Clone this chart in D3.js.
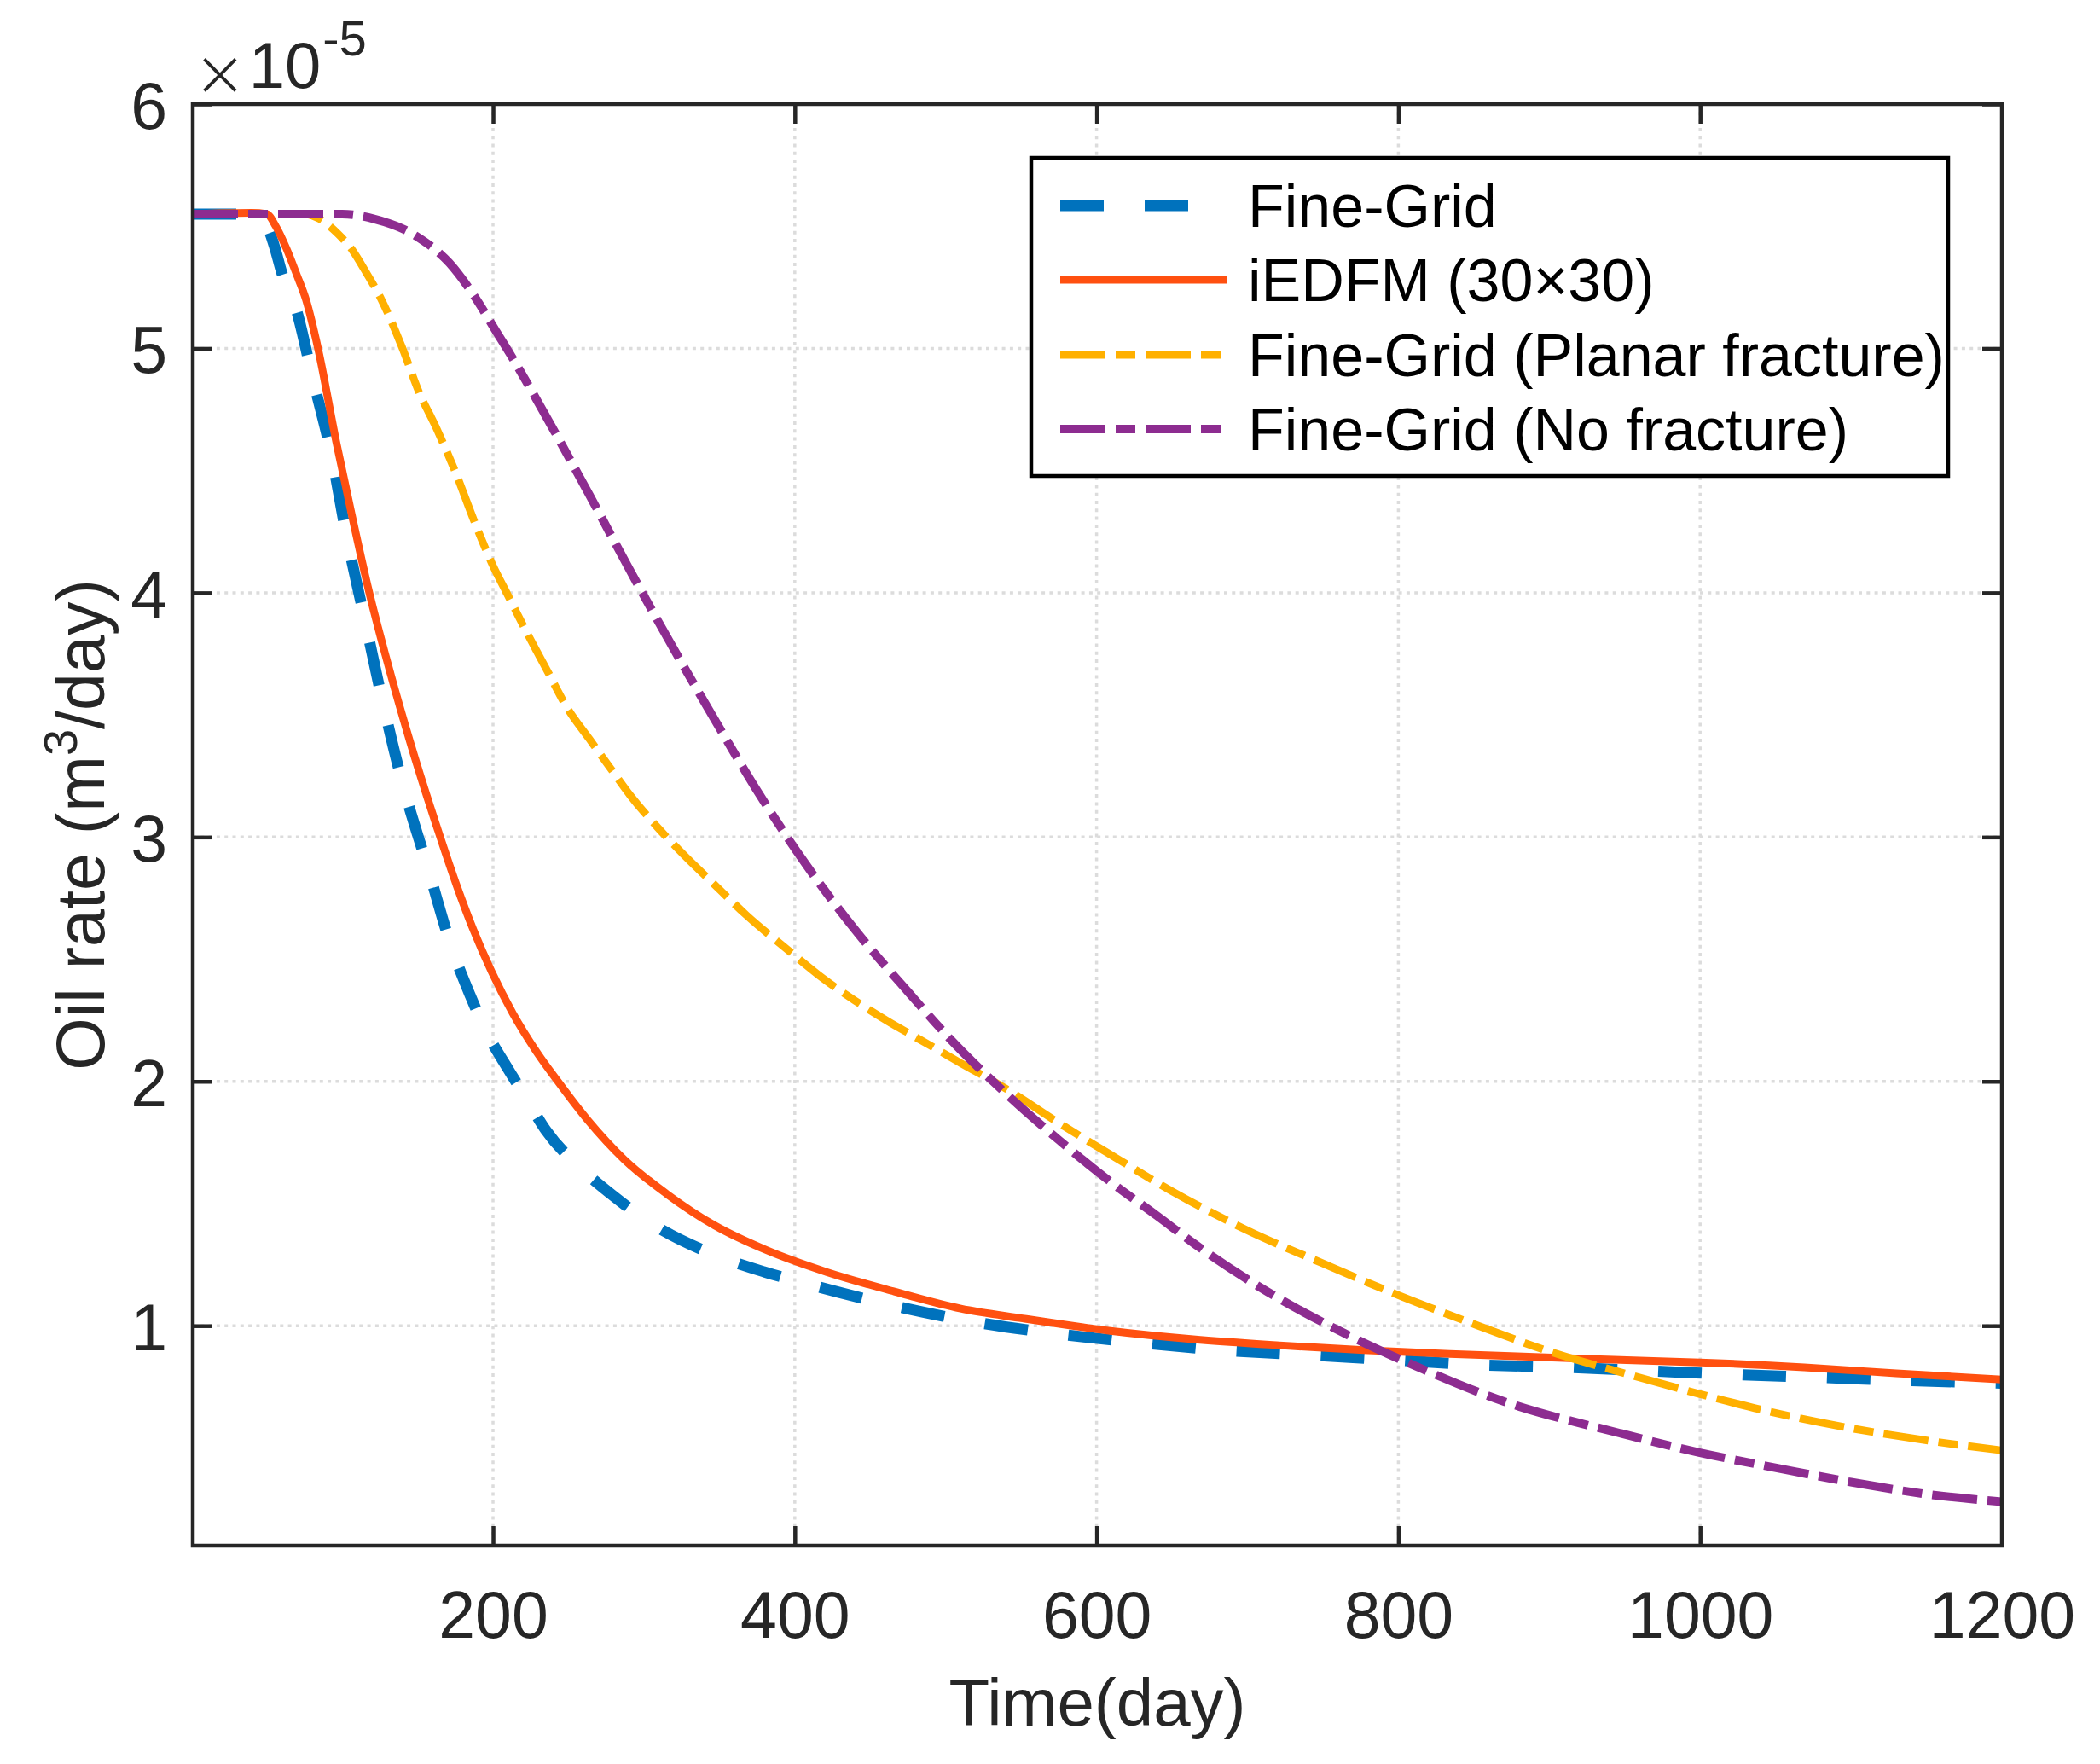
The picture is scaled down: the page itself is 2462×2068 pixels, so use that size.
<!DOCTYPE html>
<html>
<head>
<meta charset="utf-8">
<script src="https://cdn.jsdelivr.net/npm/d3@7"></script>
<style>
  html, body { margin: 0; padding: 0; background: #ffffff; }
  svg { display: block; }
  text { font-family: "Liberation Sans", Arial, Helvetica, sans-serif; fill: #262626; }
</style>
</head>
<body>
<svg id="chart" width="2462" height="2068"></svg>
<script>
// ---------------- data (oil rate in units of 1e-5 m^3/day) ----------------
const timeTicks = [200, 400, 600, 800, 1000, 1200];
const rateTicks = [1, 2, 3, 4, 5, 6];
const rateExponent = "-5";

const fineGridT = [1, 30, 40, 50, 55, 60, 70, 80, 93, 103, 115, 127, 140, 157, 173, 185, 195, 210, 218, 223, 235, 259, 280, 302, 351, 380, 406, 460, 515, 570, 629, 684, 741, 797, 854, 910, 967, 1025, 1081, 1137, 1200];
const fineGridQ = [5.55, 5.55, 5.535, 5.50, 5.42, 5.31, 5.15, 4.89, 4.56, 4.23, 3.89, 3.55, 3.22, 2.87, 2.54, 2.35, 2.21, 2.05, 1.97, 1.92, 1.80, 1.64, 1.53, 1.43, 1.28, 1.22, 1.175, 1.09, 1.02, 0.97, 0.93, 0.90, 0.88, 0.86, 0.84, 0.83, 0.815, 0.80, 0.788, 0.776, 0.765];

const iedfmT = [1, 40, 50, 56, 63, 70, 76, 84, 96, 106, 118, 132, 145, 165, 176, 187, 199, 213, 229, 243, 263, 287, 315, 347, 381, 421, 466, 510, 551, 608, 664, 721, 777, 834, 902, 947, 1000, 1069, 1130, 1200];
const iedfmQ = [5.55, 5.555, 5.55, 5.50, 5.41, 5.30, 5.20, 5.00, 4.62, 4.33, 4.00, 3.67, 3.39, 3.00, 2.80, 2.62, 2.45, 2.28, 2.12, 2.00, 1.84, 1.68, 1.54, 1.41, 1.31, 1.22, 1.14, 1.07, 1.03, 0.98, 0.945, 0.92, 0.90, 0.885, 0.87, 0.86, 0.85, 0.83, 0.805, 0.78];

const planarT = [1, 75, 85, 97, 107, 115, 126, 140, 151, 162, 174, 189, 200, 209, 223, 236, 249, 264, 278, 291, 309, 326, 346, 368, 397, 419, 440, 462, 479, 510, 540, 575, 612, 650, 700, 750, 800, 853, 900, 953, 1000, 1045, 1096, 1151, 1200];
const planarQ = [5.55, 5.55, 5.53, 5.47, 5.40, 5.32, 5.20, 5.00, 4.82, 4.68, 4.51, 4.27, 4.11, 4.00, 3.83, 3.68, 3.53, 3.40, 3.28, 3.17, 3.04, 2.93, 2.81, 2.68, 2.53, 2.42, 2.33, 2.245, 2.185, 2.075, 1.97, 1.83, 1.69, 1.55, 1.39, 1.255, 1.125, 1.00, 0.895, 0.80, 0.72, 0.65, 0.585, 0.53, 0.49];

const noFracT = [1, 100, 121, 149, 171, 188, 202, 212, 238, 263, 290, 317, 346, 374, 406, 440, 476, 502, 540, 575, 609, 640, 666, 713, 764, 817, 870, 947, 1000, 1049, 1100, 1151, 1200];
const noFracQ = [5.55, 5.55, 5.53, 5.46, 5.35, 5.21, 5.07, 4.97, 4.69, 4.41, 4.10, 3.80, 3.49, 3.20, 2.90, 2.62, 2.36, 2.18, 1.95, 1.76, 1.59, 1.45, 1.33, 1.14, 0.97, 0.82, 0.69, 0.56, 0.48, 0.42, 0.36, 0.31, 0.28];

const seriesNames = ["Fine-Grid", "iEDFM (30\u00d730)", "Fine-Grid (Planar fracture)", "Fine-Grid (No fracture)"];
const seriesTimes = [fineGridT, iedfmT, planarT, noFracT];
const seriesRates = [fineGridQ, iedfmQ, planarQ, noFracQ];

// ---------------- styling ----------------
const colors = ["#0072BD", "#FF5010", "#FFB000", "#8D2C90"];
const widths = [13, 9, 9, 10];
const dashes = ["51,48", null, "53,12,23,12", "53,12,23,12"];

const W = 2462, H = 2068;
const plot = { left: 226, right: 2347, top: 122, bottom: 1812 };
const axisColor = "#262626";

const svg = d3.select("#chart");
svg.append("rect").attr("width", W).attr("height", H).attr("fill", "#ffffff");

const x = d3.scaleLinear().domain([1, 1200]).range([plot.left, plot.right]);
const y = d3.scaleLinear().domain([0.1, 6]).range([plot.bottom, plot.top]);

// clip
svg.append("defs").append("clipPath").attr("id", "clip")
  .append("rect").attr("x", plot.left).attr("y", plot.top)
  .attr("width", plot.right - plot.left).attr("height", plot.bottom - plot.top);

// grid
const grid = svg.append("g");
grid.selectAll("line.gx").data(timeTicks.filter(t => t < 1200)).join("line")
  .attr("x1", d => x(d)).attr("x2", d => x(d))
  .attr("y1", plot.top).attr("y2", plot.bottom)
  .attr("stroke", "#dcdcdc").attr("stroke-width", 3.5).attr("stroke-dasharray", "4,5.3");
grid.selectAll("line.gy").data(rateTicks.filter(t => t < 6)).join("line")
  .attr("y1", d => y(d)).attr("y2", d => y(d))
  .attr("x1", plot.left).attr("x2", plot.right)
  .attr("stroke", "#dcdcdc").attr("stroke-width", 3.5).attr("stroke-dasharray", "4,5.3");

// lines
const lineGen = d3.line().x(d => x(d[0])).y(d => y(d[1])).curve(d3.curveMonotoneX);
const lines = svg.append("g").attr("clip-path", "url(#clip)");
seriesTimes.forEach((ts, i) => {
  const pts = ts.map((t, j) => [t, seriesRates[i][j]]);
  lines.append("path").datum(pts)
    .attr("d", lineGen)
    .attr("fill", "none")
    .attr("stroke", colors[i])
    .attr("stroke-width", widths[i])
    .attr("stroke-dasharray", dashes[i])
    .attr("stroke-linejoin", "round");
});

// axes (ticks inside on all four sides)
const tickLen = 23;
const axBottom = d3.axisBottom(x).tickValues(timeTicks).tickSize(-tickLen).tickPadding(0).tickFormat(d3.format("d"));
const axTop = d3.axisTop(x).tickValues(timeTicks).tickSize(-tickLen).tickFormat("");
const axLeft = d3.axisLeft(y).tickValues(rateTicks).tickSize(-tickLen).tickFormat(d3.format("d"));
const axRight = d3.axisRight(y).tickValues(rateTicks).tickSize(-tickLen).tickFormat("");

function styleAxis(g) {
  g.select(".domain").remove();
  g.selectAll(".tick line").attr("stroke", axisColor).attr("stroke-width", 4.5);
}
const gB = svg.append("g").attr("transform", `translate(0,${plot.bottom})`).call(axBottom).call(styleAxis);
gB.selectAll(".tick text").attr("y", 108).attr("dy", null)
  .style("font-size", "77px").style("font-family", "'Liberation Sans', Arial, sans-serif").attr("fill", axisColor);
svg.append("g").attr("transform", `translate(0,${plot.top})`).call(axTop).call(styleAxis);
const gL = svg.append("g").attr("transform", `translate(${plot.left},0)`).call(axLeft).call(styleAxis);
gL.selectAll(".tick text").attr("x", -30).attr("dy", "0.37em")
  .style("font-size", "77px").style("font-family", "'Liberation Sans', Arial, sans-serif").attr("fill", axisColor);
svg.append("g").attr("transform", `translate(${plot.right},0)`).call(axRight).call(styleAxis);

// box
svg.append("rect").attr("x", plot.left).attr("y", plot.top)
  .attr("width", plot.right - plot.left).attr("height", plot.bottom - plot.top)
  .attr("fill", "none").attr("stroke", axisColor).attr("stroke-width", 4.5);

// exponent label
const expo = svg.append("text").attr("x", 226).attr("y", 103).style("font-size", "76px");
expo.append("tspan").text("\u00d7").style("font-size", "76px").style("font-family", "'DejaVu Sans', sans-serif")
  .style("font-weight", "200").attr("dy", 9);
expo.append("tspan").text("10").attr("dx", 2).attr("dy", -9);
expo.append("tspan").text(rateExponent).attr("dx", 2).attr("dy", -38).style("font-size", "58px");

// axis labels
svg.append("text").attr("x", (plot.left + plot.right) / 2).attr("y", 2023)
  .attr("text-anchor", "middle").style("font-size", "78px").text("Time(day)");
const yl = svg.append("text").attr("transform", `translate(122,${(plot.top + plot.bottom) / 2}) rotate(-90)`)
  .attr("text-anchor", "middle").style("font-size", "79px");
yl.append("tspan").text("Oil rate (m");
yl.append("tspan").text("3").attr("dy", -32).style("font-size", "56px");
yl.append("tspan").text("/day)").attr("dy", 32);

// legend
const lg = svg.append("g");
lg.append("rect").attr("x", 1209).attr("y", 185).attr("width", 1075).attr("height", 373)
  .attr("fill", "#ffffff").attr("stroke", "#000000").attr("stroke-width", 4.5);
const rowY = [241, 328, 416, 503];
seriesNames.forEach((name, i) => {
  lg.append("line").attr("x1", 1243).attr("x2", 1438).attr("y1", rowY[i]).attr("y2", rowY[i])
    .attr("stroke", colors[i]).attr("stroke-width", widths[i]).attr("stroke-dasharray", dashes[i]);
  lg.append("text").attr("x", 1463).attr("y", rowY[i] + 25).style("font-size", "70px")
    .attr("fill", "#000000").style("fill", "#000000").text(name);
});
</script>
</body>
</html>
